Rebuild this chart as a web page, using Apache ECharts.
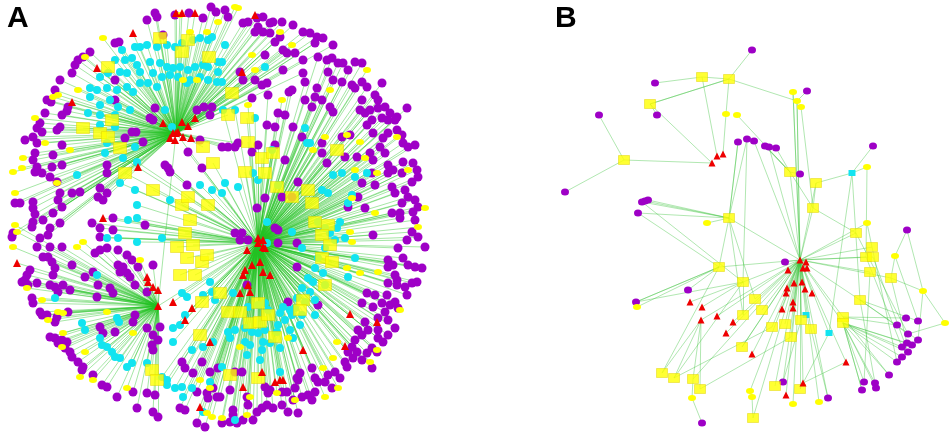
<!DOCTYPE html>
<html><head><meta charset="utf-8">
<script src="https://cdn.jsdelivr.net/npm/echarts@6/dist/echarts.min.js"></script>
<style>html,body{margin:0;padding:0;background:#fff}#c{width:950px;height:435px}</style>
</head><body><div id="c"></div>
<script>
// ---- Panel A: hub nodes (red triangles) ----
const hubsA = [[176,133],[258,243],[158,306]];
// node entries: [x, y, hub index into hubsA]
const purpleA = [
[147,20,0],[155,13,0],[157,17,0],[175,15,0],[189,13,0],[203,18,0],[211,7,0],[216,12,0],[163,35,0],[115,43,0],[119,42,0],[90,52,0],[83,57,0],[78,60,0],[75,65,0],[72,73,0],[60,80,0],[55,90,0],[47,100,0],[51,102,0],[68,107,0],[67,111,0],[62,115,0],[45,113,0],[40,123,0],[37,128,0],[42,132,0],[57,130,0],[60,127,0],[33,137,0],[37,143,0],[25,140,0],[35,153,0],[33,160,0],[37,167,0],[35,172,0],[42,173,0],[53,155,0],[62,145,0],[52,167,0],[62,165,0],[50,177,0],[57,182,0],[60,193,0],[58,200,0],[62,207,0],[72,193,0],[80,192,0],[15,203,0],[20,203,0],[33,202,0],[33,208,0],[35,214,0],[53,213,0],[100,188,0],[98,197,0],[103,200,0],[107,193,0],[107,173,0],[107,165,0],[125,138,0],[132,132,0],[136,132,0],[115,80,0],[115,100,0],[155,108,0],[153,120,0],[150,118,0],[197,110,0],[204,107,0],[212,107,0],[210,115,0],[188,152,1],[200,140,0],[165,165,1],[168,168,1],[170,172,1],[187,185,1],[202,168,1],[143,142,0],
[225,10,0],[228,17,0],[243,23,0],[248,22,0],[257,18,0],[263,17,0],[270,23,0],[273,22,0],[282,22,0],[293,25,0],[258,27,0],[263,32,0],[255,32,0],[270,33,0],[303,32,0],[310,33,0],[317,37,0],[323,38,0],[315,43,0],[275,42,0],[280,37,0],[333,45,0],[283,50,0],[287,53,0],[295,53,0],[303,60,0],[318,57,1],[327,60,1],[332,58,1],[338,63,1],[343,63,1],[348,70,1],[355,62,1],[362,63,1],[265,55,0],[283,70,0],[328,72,1],[333,80,1],[342,82,1],[352,85,1],[355,88,1],[362,82,1],[367,87,1],[382,83,1],[303,73,0],[305,82,1],[317,88,1],[315,97,1],[312,107,1],[322,100,1],[330,107,1],[333,112,1],[240,72,0],[243,80,0],[255,80,0],[262,85,0],[267,83,0],[268,95,1],[252,98,0],[292,90,1],[289,92,1],[305,100,1],[278,113,1],[285,115,1],[293,127,1],[267,125,1],[275,127,1],[302,137,1],[222,147,0],[228,147,0],[235,147,0],[238,143,0],[258,145,1],[275,145,1],[252,152,1],[285,160,1],[322,143,1],[322,153,1],[327,163,1],[345,157,1],[350,135,1],[342,137,1],[360,110,1],[365,113,1],[362,100,1],[370,110,1],[378,100,1],[375,95,1],[378,108,1],[385,107,1],[390,113,1],[397,117,1],[395,120,1],[388,120,1],[382,118,1],[407,108,1],[372,120,1],[367,125,1],[373,133,1],[383,138,1],[380,147,1],[388,133,1],[397,130,1],[402,135,1],[403,143,1],[408,147,1],[415,145,1],[370,153,1],[373,160,1],[385,153,1],[388,165,1],[393,170,1],[388,173,1],[402,173,1],[403,162,1],[413,163,1],[417,170,1],[418,177,1],[412,182,1],[372,173,1],[375,185,1],[392,187,1],[395,193,1],[405,190,1],[408,197,1],[415,200,1],[418,207,1],[402,203,1],[400,213,1],[392,213,1],[413,212,1],[362,183,1],[358,197,1],[365,208,1],[348,207,1],[357,157,1],[298,182,1],[292,197,1],[282,197,1],[265,198,1],[257,208,1],
[33,222,0],[32,227,0],[43,220,0],[50,228,0],[60,223,0],[48,235,0],[40,238,0],[13,233,0],[12,237,0],[37,247,2],[50,247,2],[43,257,2],[48,257,2],[52,262,2],[55,268,2],[53,275,2],[30,270,2],[27,275,2],[25,280,2],[22,282,2],[28,285,2],[37,283,2],[50,285,2],[55,287,2],[63,285,2],[58,292,2],[70,290,2],[33,303,2],[32,298,2],[40,312,2],[42,315,2],[47,315,2],[57,317,2],[68,312,2],[55,322,2],[50,337,2],[55,338,2],[62,340,2],[67,342,2],[58,343,2],[65,348,2],[70,352,2],[72,357,2],[78,362,2],[83,367,2],[82,370,2],[93,375,2],[102,385,2],[107,387,2],[117,397,2],[133,392,2],[147,393,2],[155,395,2],[137,408,2],[153,412,2],[158,417,2],[180,408,1],[185,410,1],[197,423,1],[205,427,1],[207,393,1],[217,397,1],[213,388,1],[208,398,1],[62,247,2],[72,265,2],[85,277,2],[93,272,2],[95,253,2],[100,250,2],[107,248,2],[100,237,1],[113,230,1],[118,250,2],[118,265,2],[123,267,2],[127,273,2],[130,277,2],[120,272,2],[110,288,2],[98,285,2],[97,297,2],[113,293,2],[135,285,2],[147,292,2],[153,265,2],[138,267,2],[127,255,2],[132,260,2],[100,327,2],[103,333,2],[115,332,2],[133,322,2],[135,315,2],[147,328,2],[153,335,2],[158,340,2],[152,345,2],[153,350,2],[160,327,2],[182,362,1],[185,368,1],[193,373,1],[202,362,1],[210,372,1],[197,392,1],[92,223,1],[100,228,1],[113,218,1],[145,225,1],
[235,233,1],[242,233,1],[240,240,1],[248,240,1],[275,228,1],[278,230,1],[278,243,1],[297,243,1],[297,267,1],[247,285,1],[288,302,1],[318,305,1],[373,235,1],[400,218,1],[415,220,1],[412,232,1],[418,237,1],[425,247,1],[407,240,1],[398,248,1],[403,258,1],[408,265,1],[415,267,1],[422,268,1],[388,260,1],[393,265,1],[388,267,1],[395,275,1],[397,280,1],[388,283,1],[397,285,1],[405,287,1],[412,283,1],[417,282,1],[407,295,1],[387,295,1],[395,302,1],[390,305,1],[398,308,1],[375,295,1],[367,293,1],[382,303,1],[385,312,1],[388,320,1],[378,318,1],[362,303,1],[373,307,1],[365,322,1],[395,328,1],[358,330,1],[368,330,1],[378,330,1],[362,335,1],[355,340,1],[378,338,1],[383,342,1],[388,335,1],[352,347,1],[357,352,1],[348,352,1],[372,348,1],[367,353,1],[377,352,1],[353,358,1],[345,362,1],[362,360,1],[347,367,1],[372,368,1],[335,372,1],[328,375,1],[340,378,1],[315,378,1],[318,382,1],[298,380,1],[300,373,1],[312,368,1],[325,382,1],[332,388,1],[315,392,1],[308,395,1],[312,400,1],[302,397,1],[295,388,1],[293,400,1],[288,412,1],[298,413,1],[282,405,1],[268,393,1],[267,405,1],[262,408,1],[273,408,1],[282,392,1],[287,392,1],[270,390,1],[257,412,1],[253,420,1],[243,420,1],[233,415,1],[237,423,1],[230,422,1],[222,423,1],[220,397,1],[230,390,1],[248,405,1],[233,410,1],[265,387,1],[247,397,1],[235,372,1],[242,372,1],[218,368,1],[297,378,1]
];
const cyanA = [
[122,50,0],[135,47,0],[140,47,0],[147,45,0],[157,47,0],[167,45,0],[175,47,0],[182,43,0],[193,40,0],[200,38,0],[208,40,0],[212,37,0],[115,60,0],[125,60,0],[132,58,0],[137,65,0],[150,62,0],[160,63,0],[167,67,0],[173,68,0],[180,67,0],[188,70,0],[195,67,0],[203,65,0],[208,67,0],[218,62,0],[100,77,0],[108,73,0],[120,72,0],[127,73,0],[140,72,0],[153,73,0],[162,77,0],[170,75,0],[178,77,0],[190,80,0],[200,77,0],[208,80,0],[217,82,0],[90,88,0],[97,90,0],[107,88,0],[117,90,0],[127,87,0],[133,92,0],[140,83,0],[148,83,0],[157,87,0],[187,83,0],[90,97,0],[100,105,0],[110,100,0],[118,107,0],[88,113,0],[100,115,0],[115,115,0],[130,110,0],[100,125,0],[115,127,0],[165,110,0],[172,127,0],[107,143,0],[135,147,0],[105,153,0],
[77,175,0],[123,158,1],[137,162,1],[120,183,1],[135,190,1],[137,205,1],[170,200,1],[212,190,1],[200,185,1],
[225,45,0],[222,62,0],[218,72,0],[222,82,0],[235,110,1],[255,118,1],[223,110,1],[305,128,1],[307,143,1],[310,143,1],[272,150,1],[342,173,1],[333,175,1],[253,173,1],[225,183,1],[222,193,1],[238,187,1],[278,185,1],[322,190,1],[328,193,1],[352,195,1],[367,173,1],[348,203,1],[355,177,1],[265,67,0],[258,180,1],
[128,220,1],[137,218,1],[118,238,1],[107,238,1],[137,242,1],[162,238,1],[97,275,2],[55,298,2],[82,323,2],[85,330,2],[117,318,2],[119,322,2],[100,338,2],[102,345,2],[107,347,2],[112,352,2],[115,357,2],[120,358,2],[127,367,2],[132,363,2],[147,363,2],[162,377,1],[167,380,1],[167,385,1],[175,388,1],[182,387,1],[192,388,1],[183,397,1],[180,325,1],[185,315,1],[173,328,1],[173,342,1],[192,350,1],[203,347,1],[213,342,1],[210,382,1],[203,412,1],[210,282,1],[182,293,1],[187,297,1],[203,295,1],[212,292,1],[215,300,1],
[267,222,1],[267,243,1],[292,232,1],[302,248,1],[318,222,1],[325,228,1],[330,233,1],[337,228,1],[340,222,1],[345,238,1],[335,240,1],[325,248,1],[318,258,1],[315,268,1],[323,273,1],[308,278,1],[313,282,1],[325,285,1],[302,288,1],[310,292,1],[297,298,1],[305,302,1],[315,300,1],[295,308,1],[292,315,1],[302,315,1],[315,315,1],[285,320,1],[290,330,1],[300,325,1],[278,325,1],[277,332,1],[265,330,1],[258,333,1],[252,332,1],[245,328,1],[235,330,1],[228,332,1],[230,338,1],[245,342,1],[250,345,1],[263,342,1],[270,343,1],[293,338,1],[280,348,1],[247,355,1],[260,360,1],[262,350,1],[280,372,1],[222,367,1],[235,420,1],[290,310,1],[348,277,1],[355,258,1],[233,293,1],[265,303,1],[258,305,1],[248,307,1],[268,310,1],[280,313,1],[283,307,1]
];
const yellowBoxA = [
[108,67,0],[160,38,0],[188,40,0],[182,52,0],[209,57,0],[83,128,0],[100,133,0],[108,137,0],[112,120,0],[120,148,0],[125,173,1],[153,190,1],[182,205,1],[188,197,1],[208,205,1],[203,147,0],[213,163,1],
[232,93,0],[247,118,1],[248,142,1],[262,158,1],[273,153,1],[245,172,1],[265,173,1],[277,187,1],[292,197,1],[308,190,1],[312,203,1],[337,150,1],[228,115,0],
[190,220,1],[185,233,1],[177,247,1],[193,245,1],[187,258,1],[202,262,1],[207,255,1],[195,275,1],[180,275,1],[202,302,1],[220,293,1],[200,335,1],[152,370,2],[157,380,2],
[328,225,1],[322,235,1],[330,245,1],[322,258,1],[332,262,1],[325,285,1],[303,300,1],[300,310,1],[258,303,1],[228,312,1],[240,312,1],[250,323,1],[260,322,1],[268,315,1],[275,337,1],[230,375,1],[258,378,1],[315,222,1]
];
const yellowDotA = [
[103,38,0],[190,32,0],[207,32,0],[180,15,0],[85,57,0],[78,90,0],[53,97,0],[35,118,0],[58,95,0],[70,150,0],[13,172,0],[22,168,0],[23,158,0],[15,193,0],[45,143,0],[183,80,0],[197,80,0],[57,183,0],
[235,7,0],[238,8,0],[218,22,0],[280,32,0],[292,45,0],[367,70,1],[330,90,1],[282,100,1],[248,105,1],[252,55,0],[255,70,0],[325,137,1],[347,135,1],[360,142,1],[313,150,1],[365,158,1],[355,170,1],[377,173,1],[408,170,1],[397,137,1],[425,208,1],[352,198,1],[375,213,1],
[15,225,2],[17,232,2],[13,247,2],[27,288,2],[42,300,2],[58,312,2],[63,313,2],[48,320,2],[63,333,2],[85,352,2],[62,347,2],[80,377,2],[93,380,2],[127,388,2],[107,312,2],[133,333,2],[140,260,2],[77,247,2],[83,242,2],[200,380,1],[210,388,1],[207,413,1],[212,417,1],
[347,268,1],[360,273,1],[378,272,1],[400,310,1],[418,227,1],[337,342,1],[333,358,1],[377,350,1],[370,362,1],[323,368,1],[338,388,1],[325,397,1],[295,400,1],[277,393,1],[250,397,1],[247,415,1],[222,418,1],[288,338,1],[240,347,1],[350,232,1],[352,242,1]
];
const redA = [
[133,33,0],[97,68,0],[72,102,0],[195,118,0],[163,123,0],[182,122,0],[188,126,0],[173,133,0],[178,132,0],[183,137,0],[170,138,0],[175,140,0],[191,138,0],[138,167,0],[182,13,0],[195,13,0],[176,13,0],[255,15,0],[242,72,0],[103,218,1],[17,263,2],[147,277,2],[148,282,2],[153,287,2],[158,290,2],[173,302,1],[185,320,1],[192,308,1],[210,342,1],[200,407,1],[247,250,1],[258,238,1],[263,240,1],[263,247,1],[265,248,1],[252,265,1],[260,262,1],[245,270,1],[263,272,1],[270,275,1],[243,275,1],[248,285,1],[250,292,1],[240,293,1],[350,314,1],[377,322,1],[303,350,1],[345,346,1],[262,372,1],[275,382,1],[280,380,1],[283,380,1],[243,387,1]
];
const hubLinksA = [[0,1],[1,2],[0,2]];

// ---- Panel B: [x, y, type, parent index] ; type P=purple, C=cyan, Y=yellow box, y=small yellow, R=red ----
const nodesB = [
[800,260,'R',-1],[806,262,'R',0],[803,268,'R',0],[807,268,'R',0],[788,270,'R',0],[794,283,'R',0],[802,282,'R',0],[787,288,'R',0],[805,289,'R',0],[812,293,'R',0],
[786,293,'R',0],[793,302,'R',0],[793,308,'R',0],[782,309,'R',0],[785,262,'P',0],[719,267,'Y',0],[743,282,'Y',0],[755,299,'Y',0],[762,310,'Y',0],[743,315,'Y',16],
[772,327,'Y',0],[785,324,'Y',0],[801,320,'Y',0],[811,329,'Y',0],[791,337,'Y',0],[806,315,'C',0],[829,333,'C',0],[843,317,'Y',0],[843,323,'Y',0],[860,300,'Y',0],
[870,272,'Y',0],[866,257,'Y',0],[873,257,'Y',0],[872,247,'Y',0],[856,233,'Y',0],[891,278,'Y',0],[895,256,'y',35],[923,291,'y',35],[945,323,'y',37],[907,230,'P',36],
[867,223,'y',0],[813,208,'Y',0],[816,183,'Y',41],[790,172,'Y',41],[800,174,'P',43],[852,173,'C',42],[867,167,'y',45],[873,146,'P',45],[793,92,'y',0],[797,101,'y',0],
[801,107,'y',41],[807,91,'P',49],[729,79,'Y',49],[702,77,'Y',52],[655,83,'P',53],[752,50,'P',52],[650,104,'Y',52],[657,115,'P',56],[726,114,'y',52],[737,115,'y',43],
[717,156,'R',53],[723,154,'R',58],[712,163,'R',56],[624,160,'Y',62],[599,115,'P',63],[565,192,'P',63],[738,142,'P',72],[747,139,'P',72],[754,141,'P',0],[765,146,'P',43],
[769,147,'P',0],[776,148,'P',43],[729,218,'Y',0],[645,201,'P',72],[642,202,'P',72],[648,200,'P',72],[638,213,'P',72],[707,223,'y',72],[688,290,'P',15],[636,302,'P',15],
[637,307,'y',15],[690,302,'R',16],[702,307,'R',16],[717,316,'R',0],[701,320,'R',0],[733,322,'R',0],[726,333,'R',0],[742,347,'Y',0],[752,354,'R',0],[846,362,'R',0],
[662,373,'Y',84],[674,378,'Y',84],[693,379,'Y',84],[700,389,'Y',84],[692,398,'y',92],[702,423,'P',94],[783,382,'P',0],[775,386,'Y',0],[803,383,'R',0],[786,395,'R',0],
[800,389,'Y',0],[750,391,'y',0],[752,397,'y',101],[753,418,'Y',102],[793,404,'y',0],[819,402,'y',0],[828,398,'P',0],[906,318,'P',27],[918,321,'P',29],[897,325,'P',27],
[908,334,'P',29],[918,340,'P',29],[902,347,'P',28],[907,343,'P',28],[912,345,'P',28],[908,352,'P',28],[902,357,'P',28],[897,362,'P',28],[889,375,'P',28],[864,382,'P',28],
[875,383,'P',28],[862,390,'P',28],[876,388,'P',28]
];
const extraLinksB = [[72,15],[15,76],[16,79],[17,72],[16,74],[24,93],[20,91],[22,96],[31,112],[32,115],[33,117],[30,119],[35,113],[36,108],[37,111],[29,120],[34,110],[38,110],[28,121],[27,118],[66,72],[67,16],[69,43],[52,56],[48,0],[49,0],[15,79],[15,90],[16,91],[72,19],[0,87],[0,103],[0,92],[42,0],[43,0],[45,29],[45,26],[46,31],[40,33],[39,37],[89,98],[26,100],[23,106],[34,41]];

// ---- colours ----
const PURPLE='#9e00c6', CYAN='#12e4f0', YELLOW='#ffff00', RED='#ee0000', GREEN='#22c222';
const ELL='path://M0,5a5,5 0 1,0 10,0a5,5 0 1,0 -10,0z';

const xy = a => a.map(n => [n[0], n[1]]);
const edgesA = [].concat(purpleA, cyanA, yellowBoxA, yellowDotA, redA)
  .map(n => ({coords: [[n[0], n[1]], hubsA[n[2]]]}))
  .concat(hubLinksA.map(l => ({coords: [hubsA[l[0]], hubsA[l[1]]]})));
const edgesB = nodesB.filter(n => n[3] >= 0).map(n => ({coords: [[n[0], n[1]], nodesB[n[3]].slice(0,2)]}))
  .concat(extraLinksB.map(l => ({coords: [nodesB[l[0]].slice(0,2), nodesB[l[1]].slice(0,2)]})));
const bOf = t => nodesB.filter(n => n[2] === t).map(n => [n[0], n[1]]);

const chart = echarts.init(document.getElementById('c'), null, {renderer: 'canvas'});
const sc = (name, data, symbol, size, color, z, extra) => Object.assign({
  type: 'scatter', name, data, symbol, symbolSize: size, z, silent: true,
  itemStyle: {color, opacity: 1}
}, extra || {});
chart.setOption({
  animation: false,
  backgroundColor: '#ffffff',
  grid: {left: 0, right: 0, top: 0, bottom: 0},
  xAxis: {type: 'value', min: 0, max: 950, show: false},
  yAxis: {type: 'value', min: 0, max: 435, inverse: true, show: false},
  graphic: [
    {type: 'text', left: 7, top: 4, style: {text: 'A', font: 'bold 30px "Liberation Sans", Arial, sans-serif', fill: '#000'}},
    {type: 'text', left: 555, top: 4, style: {text: 'B', font: 'bold 30px "Liberation Sans", Arial, sans-serif', fill: '#000'}}
  ],
  series: [
    {type: 'lines', coordinateSystem: 'cartesian2d', data: edgesA, z: 1, silent: true,
     lineStyle: {color: GREEN, width: 0.9, opacity: 0.45}},
    {type: 'lines', coordinateSystem: 'cartesian2d', data: edgesB, z: 1, silent: true,
     lineStyle: {color: '#3cc23c', width: 0.8, opacity: 0.5}},
    sc('purpleA', xy(purpleA), 'circle', 9, PURPLE, 3),
    sc('cyanA', xy(cyanA), 'circle', 8, CYAN, 3),
    sc('yDotA', xy(yellowDotA), ELL, [8,6], YELLOW, 4),
    sc('yBoxA', xy(yellowBoxA), 'rect', [13,11], YELLOW, 4, {itemStyle: {color: YELLOW, borderColor: '#e2d400', borderWidth: 0.6}}),
    sc('redA', xy(redA).concat(hubsA), 'triangle', 8, RED, 5),
    sc('purpleB', bOf('P'), ELL, [8,7], PURPLE, 3),
    sc('cyanB', bOf('C'), 'rect', [7,6], CYAN, 3),
    sc('yDotB', bOf('y'), ELL, [8,6], YELLOW, 4),
    sc('yBoxB', bOf('Y'), 'rect', [11,9], YELLOW, 4, {itemStyle: {color: YELLOW, borderColor: '#e2d400', borderWidth: 0.6}}),
    sc('redB', bOf('R'), 'triangle', 7, RED, 5)
  ]
});
</script></body></html>
